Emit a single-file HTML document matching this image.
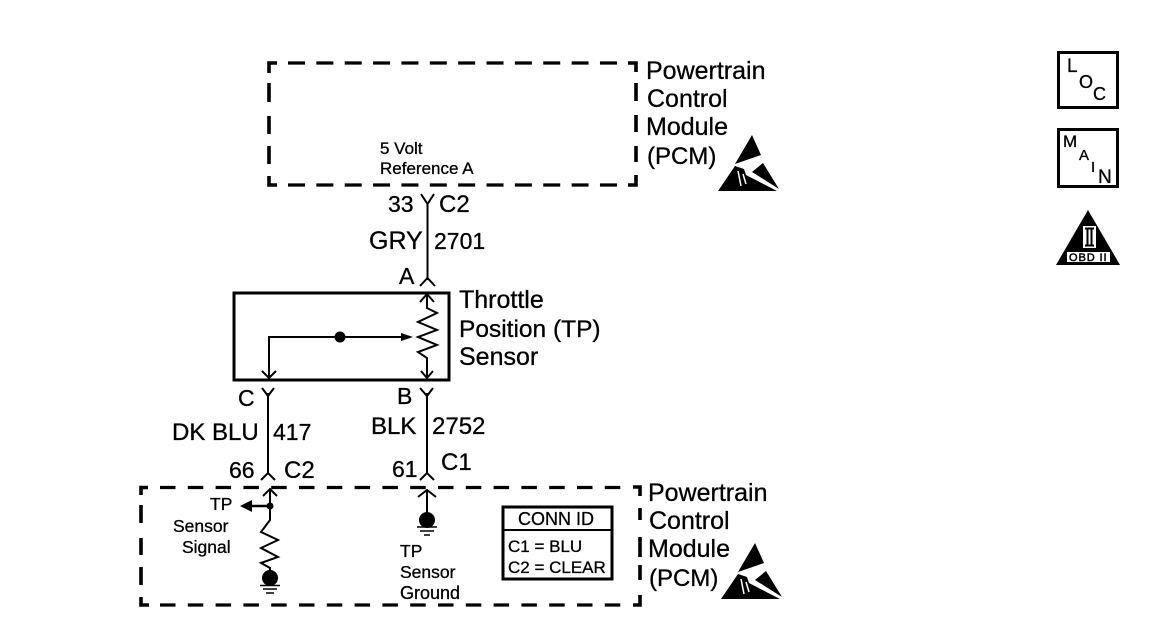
<!DOCTYPE html>
<html><head><meta charset="utf-8"><style>
html,body{margin:0;padding:0;background:#fff}
svg{display:block}
text{font-family:"Liberation Sans",sans-serif;fill:#000;stroke:#000;stroke-width:.3}
.l{font-size:23px}
.w{font-size:25px}
.m{font-size:24px}
.s{font-size:17px}
.x{font-size:17.5px}
</style></head><body>
<svg width="1152" height="626" viewBox="0 0 1152 626" xmlns="http://www.w3.org/2000/svg">
<g fill="none" stroke="#000">
<!-- top dashed box -->
<path d="M288 63H618M288 185H618" stroke-width="3.200" stroke-dasharray="17 11.360"/>
<path d="M269 73V63H277M269 83V102M269 116V134M269 146V164M269 176V185H277" stroke-width="3.600"/>
<path d="M628 63H636V72M636 83V101M636 115V132M636 146V162M636 175V185H628" stroke-width="3.600"/>
<!-- bottom dashed box -->
<path d="M160 487.500H625M160 605H625" stroke-width="3.200" stroke-dasharray="15.500 12.300"/>
<path d="M141 495V487.500H148M141 505V523M141 538V555M141 567V585M141 597V605H149" stroke-width="3.600"/>
<path d="M633 487H640V496M640 508V520M640 537V557M640 565V580M640 595V605H633" stroke-width="3.600"/>
<!-- top wire -->
<path d="M427.500 203V280" stroke-width="2"/>
<path d="M421 194L427.500 204L434 194M420 286L427.500 278L435 286" stroke-width="2"/>
<!-- sensor box -->
<rect x="234" y="293" width="215" height="87" stroke-width="3"/>
<path d="M427 295V308L437 313L418 322L437 330L418 337L437 345L418 352L427 358V377M420 302L427 294L434 302M421 371L427 378L433 371" stroke-width="2"/>
<path d="M269 378V337H406" stroke-width="2"/>
<path d="M262 371L269 378L276 371" stroke-width="2"/>
<!-- lower wires -->
<path d="M268 393V474M427 393V474" stroke-width="2"/>
<path d="M262 388L268 396L274 388M420 388L427 396L433 388M261 480L268 473L275 480M420 480L427 473L434 480" stroke-width="2"/>
<!-- bottom left circuit -->
<path d="M270 489V520L261 532L278 540L261 548L278 557L261 563L270 568V574" stroke-width="2"/>
<path d="M263 496L270 489L277 496" stroke-width="2"/>
<path d="M250 506H270" stroke-width="2.500"/>
<path d="M260 585.500H280M263 589H277M266 593H274" stroke-width="1.500"/>
<!-- bottom right circuit -->
<path d="M427 490V516" stroke-width="2"/>
<path d="M418 497L427 490L436 497" stroke-width="2"/>
<path d="M417 527H437M420 531H434M424 535H430" stroke-width="1.500"/>
<!-- conn id -->
<rect x="503" y="507" width="109" height="72" stroke-width="3"/>
<path d="M503 530H612" stroke-width="2"/>
<!-- icons -->
<rect x="1058.500" y="52.500" width="59" height="55" stroke-width="3"/>
<rect x="1058.500" y="129.500" width="59" height="57" stroke-width="3"/>
</g>
<g fill="#000">
<circle cx="340" cy="337" r="5.500"/>
<path d="M401 333L413 337L401 341Z"/>
<circle cx="270" cy="506" r="3.500"/>
<path d="M240 506L252 500V512Z"/>
<circle cx="270" cy="578" r="8"/>
<circle cx="427" cy="520" r="8"/>
<path d="M1088 210L1120 265H1056Z"/>
<!-- ESD top -->
<g id="esd1">
<path d="M752 135L761 155L735 164Z"/>
<path d="M763 163L779 189L752 172Z"/>
<path d="M735 166L718 191H777L746 175L744 169Z"/>
</g>
<path d="M738 171L741 186M743 174L746 184" stroke="#fff" stroke-width="1.500" fill="none"/>
<!-- ESD bottom -->
<path d="M755 543L764 563L738 572Z"/>
<path d="M766 571L782 597L755 580Z"/>
<path d="M738 574L721 599H780L749 583L747 577Z"/>
<path d="M741 579L744 594M746 582L749 592" stroke="#fff" stroke-width="1.500" fill="none"/>
</g>
<rect x="1067" y="252" width="43" height="10" fill="#fff"/>
<rect x="1083" y="226" width="13" height="22" fill="#fff"/>
<path d="M1085 228.500H1094M1085 245.500H1094" stroke="#000" stroke-width="2" fill="none"/>
<path d="M1087.500 228V246M1091.500 228V246" stroke="#000" stroke-width="2" fill="none"/>
<text x="1069" y="261" style="font-size:11px;letter-spacing:.9px;stroke-width:.5">OBD II</text>
<!-- text -->
<text class="w" x="646" y="79">Powertrain</text>
<text class="w" x="647" y="107">Control</text>
<text class="w" x="646" y="135">Module</text>
<text class="m" x="647" y="164">(PCM)</text>
<text class="s" x="380" y="154">5 Volt</text>
<text class="s" x="380" y="174">Reference A</text>
<text class="l" x="388" y="212">33</text>
<text class="m" x="439" y="212">C2</text>
<text class="w" x="369" y="249">GRY</text>
<text class="l" x="434" y="249">2701</text>
<text class="l" x="399" y="284">A</text>
<text class="w" x="459" y="308">Throttle</text>
<text class="m" x="459" y="337" style="font-size:24.500px">Position (TP)</text>
<text class="w" x="459" y="365">Sensor</text>
<text class="l" x="238" y="406">C</text>
<text class="l" x="397" y="404">B</text>
<text class="m" x="172" y="440">DK BLU</text>
<text class="l" x="273" y="440">417</text>
<text class="m" x="371" y="434">BLK</text>
<text class="m" x="432" y="434">2752</text>
<text class="l" x="229" y="478">66</text>
<text class="m" x="284" y="478">C2</text>
<text class="l" x="392" y="477">61</text>
<text class="m" x="441" y="470">C1</text>
<text class="w" x="648" y="501">Powertrain</text>
<text class="w" x="649" y="529">Control</text>
<text class="w" x="648" y="557">Module</text>
<text class="m" x="649" y="586">(PCM)</text>
<text class="x" x="210" y="510">TP</text>
<text class="x" x="173" y="532">Sensor</text>
<text class="x" x="182" y="553">Signal</text>
<text class="x" x="400" y="557">TP</text>
<text class="x" x="400" y="578">Sensor</text>
<text class="x" x="400" y="599" style="font-size:18px">Ground</text>
<text x="518" y="525" style="font-size:18px">CONN ID</text>
<text class="s" x="508" y="552">C1 = BLU</text>
<text class="s" x="508" y="573">C2 = CLEAR</text>
<text x="1067" y="72" style="font-size:19px">L</text>
<text x="1079" y="88" style="font-size:18px">O</text>
<text x="1093" y="100" style="font-size:18px">C</text>
<text x="1063" y="147" style="font-size:17px">M</text>
<text x="1079" y="160" style="font-size:15px">A</text>
<text x="1091" y="172" style="font-size:15px">I</text>
<text x="1098" y="183" style="font-size:19px">N</text>
</svg>
</body></html>
